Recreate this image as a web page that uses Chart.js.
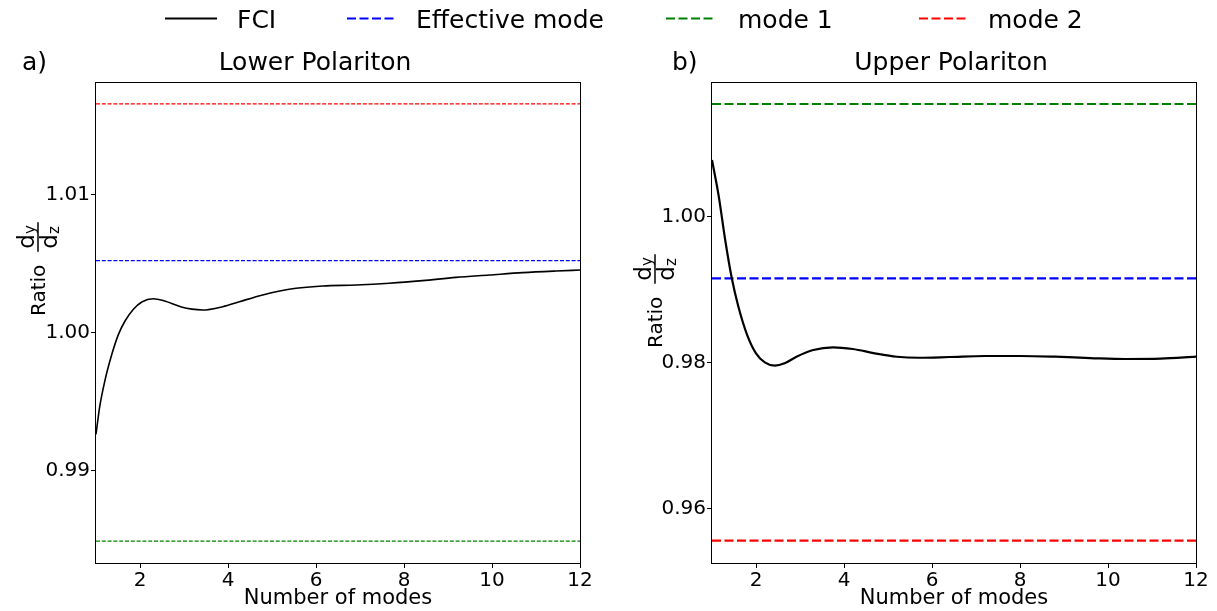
<!DOCTYPE html>
<html lang="en">
<head>
<meta charset="UTF-8">
<title>Ratio dy/dz vs number of modes</title>
<script src="https://cdn.jsdelivr.net/npm/chart.js@4.4.4/dist/chart.umd.min.js"></script>
<style>
  html, body { margin: 0; padding: 0; background: #fff; }
  .stage { position: relative; width: 1217px; height: 611px; }
  .panel { position: absolute; left: 0; top: 0; width: 1217px; height: 611px; }
</style>
</head>
<body>
<div class="stage">
  <div class="panel"><canvas id="lowerChart"></canvas></div>
  <div class="panel"><canvas id="upperChart"></canvas></div>
</div>
<script>
const FONT = '"DejaVu Sans", sans-serif';

// Shared x axis
const xTicks = [2, 4, 6, 8, 10, 12];

// a) Lower Polariton
const lowerModes = [1, 1.08, 1.2, 1.36, 1.51, 1.66, 1.85, 2.04, 2.3, 2.56, 2.94, 3.18, 3.42, 3.88, 4.26, 4.79, 5.39, 6.15, 6.91, 7.67, 8.42, 9.18, 9.94, 10.7, 11.46, 12];
const lowerFci = [0.99262, 0.99455, 0.99649, 0.99843, 0.99988, 1.00085, 1.0017, 1.00223, 1.00247, 1.0023, 1.00187, 1.00171, 1.00165, 1.00189, 1.00225, 1.00274, 1.00315, 1.00339, 1.00346, 1.00359, 1.00378, 1.00402, 1.00419, 1.00436, 1.00448, 1.00455];
const lowerEffective = 1.00524;
const lowerMode1 = 0.98487;
const lowerMode2 = 1.01661;
const lowerYTicks = [0.99, 1.00, 1.01];

// b) Upper Polariton
const upperModes = [1, 1.15, 1.3, 1.45, 1.6, 1.8, 2.0, 2.2, 2.43, 2.65, 2.92, 3.3, 3.75, 4.2, 4.7, 5.2, 5.7, 6.4, 7.2, 8.0, 8.8, 9.6, 10.4, 11.2, 12];
const upperFci = [1.00777, 1.00293, 0.99681, 0.99156, 0.98767, 0.98379, 0.98129, 0.98005, 0.97959, 0.97992, 0.98082, 0.98174, 0.98211, 0.98188, 0.98129, 0.98082, 0.98068, 0.98078, 0.98092, 0.98092, 0.98082, 0.98064, 0.98051, 0.98055, 0.98082];
const upperEffective = 0.99156;
const upperMode1 = 1.01544;
const upperMode2 = 0.95562;
const upperYTicks = [0.96, 0.98, 1.00];

const legendLabels = ['FCI', 'Effective mode', 'mode 1', 'mode 2'];
const COLORS = { fci: '#000000', effective: '#0000ff', mode1: '#008000', mode2: '#ff0000' };

function toPoints(xs, ys) {
    return xs.map((x, i) => ({ x, y: ys[i] }));
}

function flatLine(value) {
    return [{ x: 1, y: value }, { x: 12, y: value }];
}

// "Ratio  d_y / d_z" rotated, drawn by hand since Chart.js titles can't do fractions.
function drawYLabel(ctx, baseX, bottomY) {
    ctx.save();
    ctx.translate(baseX, bottomY);
    ctx.rotate(-Math.PI / 2);
    ctx.fillStyle = '#000';
    ctx.textBaseline = 'alphabetic';
    ctx.textAlign = 'left';
    ctx.font = `20px ${FONT}`;
    ctx.fillText('Ratio', 0, 0);
    const fx = ctx.measureText('Ratio').width + 13;

    ctx.font = `23px ${FONT}`;
    const dW = ctx.measureText('d').width;
    ctx.font = `15px ${FONT}`;
    const yW = ctx.measureText('y').width;
    const lineLen = dW + yW + 6;

    ctx.font = `23px ${FONT}`;
    ctx.fillText('d', fx + 3, -11);
    ctx.fillText('d', fx + 3, 12);
    ctx.font = `15px ${FONT}`;
    ctx.fillText('y', fx + 3 + dW, -10);
    ctx.fillText('z', fx + 3 + dW, 14);

    ctx.strokeStyle = '#000';
    ctx.lineWidth = 1.5;
    ctx.beginPath();
    ctx.moveTo(fx, -7);
    ctx.lineTo(fx + lineLen, -7);
    ctx.stroke();
    ctx.restore();
}

function drawLegend(ctx) {
    const items = [
        { color: COLORS.fci, dash: [], x0: 165, x1: 217, tx: 237 },
        { color: COLORS.effective, dash: [9, 3.5], x0: 347, x1: 396, tx: 416 },
        { color: COLORS.mode1, dash: [9, 3.5], x0: 666, x1: 716, tx: 738 },
        { color: COLORS.mode2, dash: [9, 3.5], x0: 919, x1: 969, tx: 988 },
    ];
    ctx.save();
    ctx.font = `25px ${FONT}`;
    ctx.textBaseline = 'alphabetic';
    items.forEach((it, i) => {
        ctx.strokeStyle = it.color;
        ctx.lineWidth = 2.2;
        ctx.setLineDash(it.dash);
        ctx.beginPath();
        ctx.moveTo(it.x0, 18.5);
        ctx.lineTo(it.x1, 18.5);
        ctx.stroke();
        ctx.setLineDash([]);
        ctx.fillStyle = '#000';
        ctx.fillText(legendLabels[i], it.tx, 28);
    });
    ctx.restore();
}

const panelDecor = {
    id: 'panelDecor',
    afterDraw(chart, args, opts) {
        const { ctx, chartArea: a } = chart;
        ctx.save();
        ctx.strokeStyle = '#000';
        ctx.lineWidth = 1;
        ctx.strokeRect(a.left - 0.5, a.top - 0.5, a.width + 1, a.height + 1);

        ctx.fillStyle = '#000';
        ctx.textBaseline = 'alphabetic';
        ctx.font = `25px ${FONT}`;
        ctx.textAlign = 'left';
        ctx.fillText(opts.tag, opts.tagX, 70);
        ctx.textAlign = 'center';
        ctx.fillText(opts.title, opts.titleX, 70);

        ctx.font = `21px ${FONT}`;
        ctx.fillText('Number of modes', (a.left + a.right) / 2, 604);
        ctx.restore();

        drawYLabel(ctx, opts.labelX, opts.labelBottom);
        if (opts.legend) drawLegend(ctx);
    },
};

function makeChart(canvasId, cfg) {
    const dashed = (label, value, color) => ({
        label,
        data: flatLine(value),
        borderColor: color,
        borderWidth: cfg.refWidth,
        borderDash: cfg.refDash,
        pointRadius: 0,
    });
    return new Chart(document.getElementById(canvasId), {
        type: 'line',
        data: {
            datasets: [
                {
                    label: 'FCI',
                    data: toPoints(cfg.modes, cfg.fci),
                    borderColor: COLORS.fci,
                    borderWidth: cfg.fciWidth,
                    pointRadius: 0,
                    cubicInterpolationMode: 'monotone',
                },
                dashed('Effective mode', cfg.effective, COLORS.effective),
                dashed('mode 1', cfg.mode1, COLORS.mode1),
                dashed('mode 2', cfg.mode2, COLORS.mode2),
            ],
        },
        options: {
            responsive: true,
            maintainAspectRatio: false,
            animation: false,
            events: [],
            layout: { padding: cfg.padding },
            plugins: {
                legend: { display: false },
                tooltip: { enabled: false },
                panelDecor: cfg.decor,
            },
            scales: {
                x: {
                    type: 'linear',
                    min: 1,
                    max: 12,
                    afterBuildTicks: (s) => { s.ticks = xTicks.map((v) => ({ value: v })); },
                    afterFit: (s) => { s.height = 48; },
                    border: { display: false },
                    grid: { drawOnChartArea: false, drawTicks: true, tickLength: 5, color: '#000', lineWidth: 1 },
                    ticks: { color: '#000', font: { family: FONT, size: 20 }, padding: 1, maxRotation: 0 },
                },
                y: {
                    type: 'linear',
                    min: cfg.yMin,
                    max: cfg.yMax,
                    afterBuildTicks: (s) => { s.ticks = cfg.yTicks.map((v) => ({ value: v })); },
                    afterFit: (s) => { s.width = 96; },
                    border: { display: false },
                    grid: { drawOnChartArea: false, drawTicks: true, tickLength: 5, color: '#000', lineWidth: 1 },
                    ticks: {
                        color: '#000',
                        font: { family: FONT, size: 20 },
                        padding: 1,
                        callback: (v) => Number(v).toFixed(2),
                    },
                },
            },
        },
        plugins: [panelDecor],
    });
}

makeChart('lowerChart', {
    modes: lowerModes,
    fci: lowerFci,
    effective: lowerEffective,
    mode1: lowerMode1,
    mode2: lowerMode2,
    yTicks: lowerYTicks,
    yMin: 0.98328,
    yMax: 1.01813,
    fciWidth: 1.6,
    refWidth: 1.2,
    refDash: [4, 1.8],
    padding: { left: 0, top: 83, right: 637, bottom: 0 },
    decor: { tag: 'a)', tagX: 22, title: 'Lower Polariton', titleX: 315, labelX: 45, labelBottom: 316, legend: true },
});

makeChart('upperChart', {
    modes: upperModes,
    fci: upperFci,
    effective: upperEffective,
    mode1: upperMode1,
    mode2: upperMode2,
    yTicks: upperYTicks,
    yMin: 0.95256,
    yMax: 1.01832,
    fciWidth: 2.2,
    refWidth: 2.2,
    refDash: [9, 3.5],
    padding: { left: 616, top: 83, right: 21, bottom: 0 },
    decor: { tag: 'b)', tagX: 672, title: 'Upper Polariton', titleX: 951, labelX: 662, labelBottom: 348, legend: false },
});
</script>
</body>
</html>
